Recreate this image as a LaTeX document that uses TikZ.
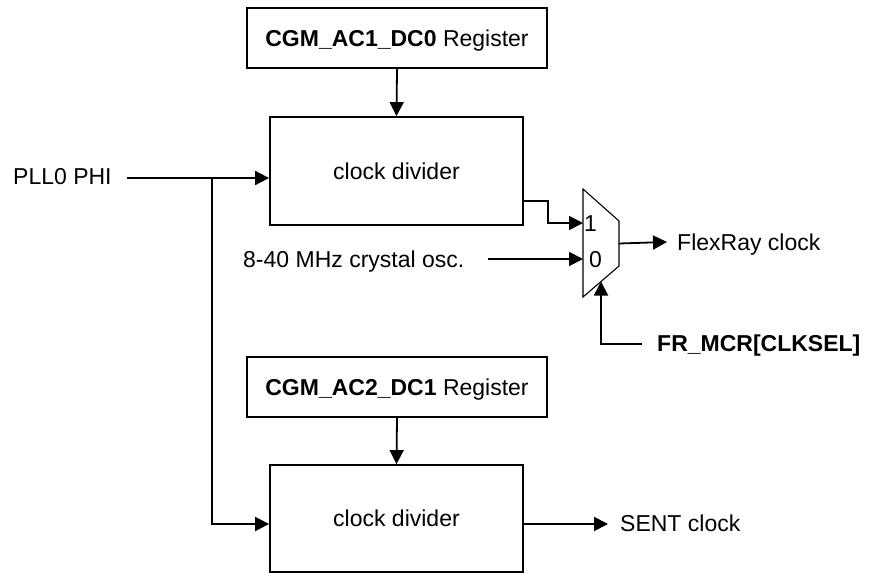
\documentclass[tikz,border=0pt]{standalone}
\usepackage{fontspec}
\setmainfont{Liberation Sans}
\usetikzlibrary{arrows.meta,calc}
\begin{document}
\begin{tikzpicture}[x=1pt,y=-1pt,
  font=\fontsize{23}{27}\selectfont,
  box/.style={draw, line width=1.8pt, inner sep=0pt, text height=16.5pt, text depth=0pt},
  lbl/.style={inner sep=0pt, anchor=west, text height=16.5pt, text depth=0pt},
  wire/.style={line width=1.8pt},
  arr/.style={wire, -{Triangle[length=14pt,width=14pt]}},
  muxline/.style={line width=1.1pt, line join=miter}]
\useasboundingbox (0,0) rectangle (870,573);

% boxes
\node[box, minimum width=300pt, minimum height=60pt] (reg1) at (397,38) {\textbf{CGM\_AC1\_DC0} Register};
\node[box, minimum width=253pt, minimum height=108pt] (div1) at (396.5,171) {clock divider};
\node[box, minimum width=300pt, minimum height=60pt] (reg2) at (397,387) {\textbf{CGM\_AC2\_DC1} Register};
\node[box, minimum width=253pt, minimum height=107pt] (div2) at (396.5,518.5) {clock divider};

% mux
\coordinate (m1) at (583,189);
\coordinate (m2) at (619,221);
\coordinate (m3) at (619,266);
\coordinate (m4) at (583,297);
\draw[muxline] (m1) -- (m2) -- (m3) -- (m4) -- cycle;
\node[lbl] (one) at (584,223) {1};
\node[lbl] (zero) at (589,259) {0};
\coordinate (min1) at (583,223);
\coordinate (min0) at (583,259);
\coordinate (mout) at ($(m2)!0.5!(m3)$);
\coordinate (msel) at ($(m4)!0.5!(m3)$);

% labels
\node[lbl] (pll) at (13,176) {PLL0 PHI};
\node[lbl] (xtal) at (243,259) {8-40 MHz crystal osc.};
\node[lbl] (flex) at (677,242) {FlexRay clock};
\node[lbl] (sent) at (620,523) {SENT clock};
\node[lbl] (sel) at (657,343) {\textbf{FR\_MCR[CLKSEL]}};

% connectors
\coordinate (pin) at (127,178);
\coordinate (br) at (212,178);
\draw[arr] (pin) -- (pin -| div1.west);
\draw[arr] (br) |- (div2.west |- 0,524);
\draw[arr] (reg1.south) -- (div1.north);
\draw[arr] (reg2.south) -- (div2.north);

\coordinate (d1o) at (div1.east |- 0,201);
\draw[arr] (d1o) -- ++(24,0) |- (min1);
\coordinate (xin) at (488,259);
\draw[arr] (xin) -- (min0);
\draw[arr] (mout) -- ($(flex.west)+(-10,0)$ |- mout);
\draw[arr] (div2.east |- 0,524) -- (608,524);
\coordinate (selin) at (642,344);
\draw[arr] (selin) -| (msel);
\end{tikzpicture}
\end{document}
